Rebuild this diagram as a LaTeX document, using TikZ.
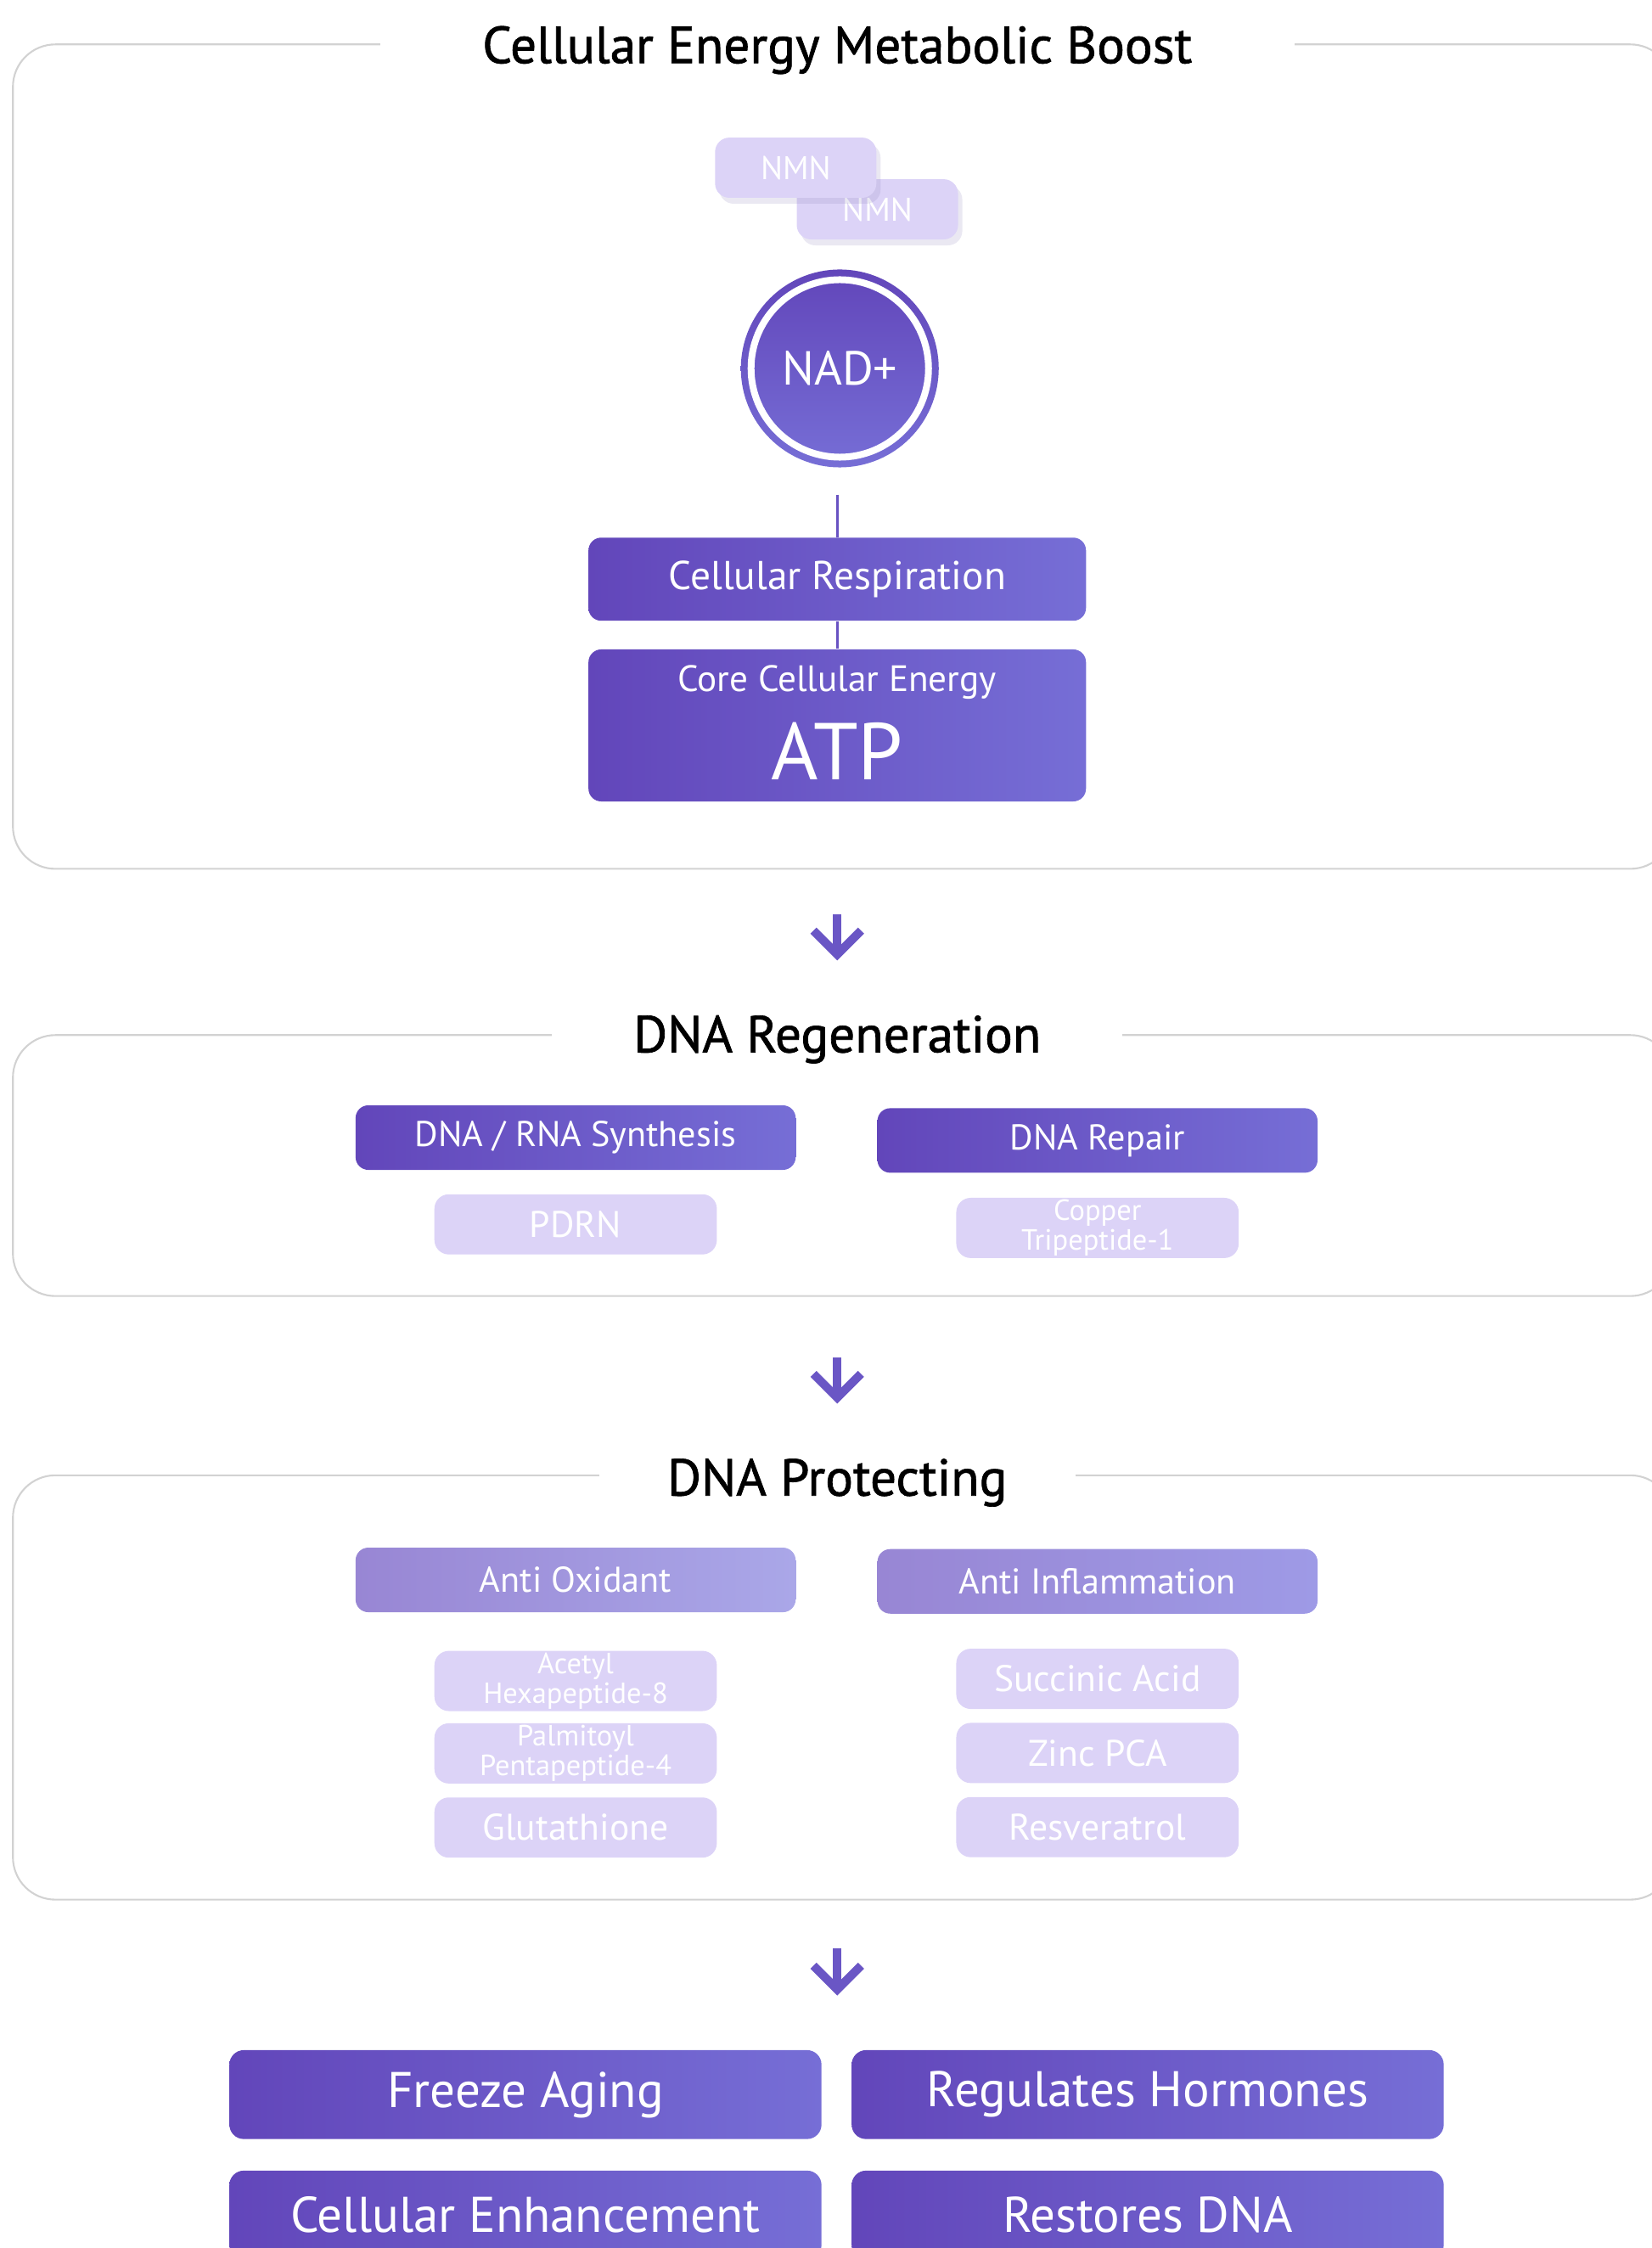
\documentclass[tikz,border=0pt]{standalone}
\usepackage{fontspec}
\setmainfont{PT Sans}
\newfontfamily\headfont[FakeBold=1.2]{PT Sans}
\usetikzlibrary{arrows.meta,positioning,shadows}

\definecolor{deepviolet}{HTML}{6246BA}
\definecolor{softviolet}{HTML}{766ED6}
\definecolor{chipviolet}{HTML}{DCD3F7}
\definecolor{mutedleft}{HTML}{9886D4}
\definecolor{mutedright}{HTML}{AAA7E8}
\definecolor{mutedrighttoo}{HTML}{9E9AE6}
\definecolor{framegrey}{HTML}{D2D2D2}
\definecolor{shadeviolet}{HTML}{8A82B8}

\begin{document}
\begin{tikzpicture}[
  frame/.style={draw=framegrey, line width=0.6pt, rounded corners=0.5cm},
  sectitle/.style={fill=white, inner ysep=2pt, font=\headfont\fontsize{17.4}{21}\selectfont},
  bar/.style={rounded corners=0.15cm, left color=deepviolet, right color=softviolet,
              text=white, align=center, minimum width=5.183cm, minimum height=0.76cm,
              font=\fontsize{12}{14}\selectfont},
  mutedbar/.style={bar, left color=mutedleft, right color=mutedright},
  chip/.style={rounded corners=0.17cm, fill=chipviolet, text=white, align=center,
               minimum width=3.326cm, minimum height=0.709cm, inner sep=0pt,
               font=\fontsize{12.4}{14}\selectfont},
  smallchip/.style={chip, font=\fontsize{9.8}{8.8}\selectfont},
  bigbar/.style={bar, rounded corners=0.17cm, minimum width=6.973cm, minimum height=1.047cm,
                 font=\fontsize{16.8}{20}\selectfont},
  link/.style={draw=deepviolet!70!softviolet, line width=0.8pt},
  flow/.style={draw=deepviolet!60!softviolet, line width=0.1cm,
               -{Straight Barb[length=0.28cm, width=0.56cm]}}
]
\useasboundingbox (0,0) rectangle (19.45,-26.474);

% section frames
\draw[frame] (0.152,-0.523) rectangle (19.7,-10.232);
\draw[frame] (0.152,-12.19) rectangle (19.7,-15.263);
\draw[frame] (0.152,-17.374) rectangle (19.7,-22.371);

\node[sectitle, minimum width=10.77cm] (ttlboost) at (9.86,-0.59) {Cellular Energy Metabolic Boost};
\node[sectitle, minimum width=6.72cm] (ttlregen) at (9.86,-12.24) {DNA Regeneration};
\node[sectitle, minimum width=5.61cm] (ttlprot) at (9.86,-17.46) {DNA Protecting};

% energy section
\node[chip, minimum width=1.9cm, font=\fontsize{11}{13}\selectfont,
      drop shadow={opacity=0.18, fill=shadeviolet, shadow xshift=0.05cm, shadow yshift=-0.07cm}]
      (nmnback) at (10.333,-2.465) {NMN};
\node[chip, minimum width=1.9cm, font=\fontsize{11}{13}\selectfont,
      drop shadow={opacity=0.18, fill=shadeviolet, shadow xshift=0.05cm, shadow yshift=-0.07cm}]
      (nmnfront) at (9.371,-1.975) {NMN};
\node[circle, minimum size=2.33cm, top color=deepviolet, bottom color=softviolet,
      text=white, font=\fontsize{16}{19}\selectfont] (nad) at (9.89,-4.339) {NAD+};
\draw[white, line width=0.08cm] (nad.center) circle (1.045cm);
\node[bar, minimum width=5.859cm, minimum height=0.979cm, font=\fontsize{13.5}{16}\selectfont]
      (resp) at (9.86,-6.821) {Cellular Respiration};
\node[bar, minimum width=5.859cm, minimum height=1.79cm] (atp) at (9.86,-8.543) {};
\node[text=white, font=\fontsize{12.3}{14}\selectfont] (atptag) at (9.86,-8.037) {Core Cellular Energy};
\node[text=white, font=\fontsize{27}{30}\selectfont] (atpword) at (9.86,-8.847) {ATP};
\coordinate (nadfoot) at (9.86,-5.825);
\draw[link] (nadfoot) -- (resp.north);
\draw[link] (resp.south) -- (atp.north);

% regeneration section
\node[bar] (synth) at (6.779,-13.397) {DNA / RNA Synthesis};
\node[bar] (repair) at (12.925,-13.431) {DNA Repair};
\node[chip] (pdrn) at (6.779,-14.419) {PDRN};
\node[smallchip] (copper) at (12.925,-14.461) {Copper\\Tripeptide-1};

% protecting section
\node[mutedbar] (antiox) at (6.779,-18.606) {Anti Oxidant};
\node[mutedbar, right color=mutedrighttoo] (antiinf) at (12.925,-18.623) {Anti Inflammation};
\node[smallchip] (acetyl) at (6.779,-19.796) {Acetyl\\Hexapeptide-8};
\node[smallchip, below=0.13cm of acetyl] (palmitoyl) {Palmitoyl\\Pentapeptide-4};
\node[chip, below=0.15cm of palmitoyl] (gluta) {Glutathione};
\node[chip] (succinic) at (12.925,-19.771) {Succinic Acid};
\node[chip, below=0.15cm of succinic] (zinc) {Zinc PCA};
\node[chip, below=0.15cm of zinc] (resver) {Resveratrol};

% flow arrows
\coordinate (flowAtop) at (9.86,-10.77);
\coordinate (flowAend) at (9.86,-11.31);
\coordinate (flowBtop) at (9.86,-15.99);
\coordinate (flowBend) at (9.86,-16.53);
\coordinate (flowCtop) at (9.86,-22.945);
\coordinate (flowCend) at (9.86,-23.50);
\draw[flow] (flowAtop) -- (flowAend);
\draw[flow] (flowBtop) -- (flowBend);
\draw[flow] (flowCtop) -- (flowCend);

% outcomes
\node[bigbar] (freeze) at (6.188,-24.667) {Freeze Aging};
\node[bigbar] (hormones) at (13.516,-24.667) {Regulates Hormones};
\node[bigbar] (enhance) at (6.188,-26.086) {Cellular Enhancement};
\node[bigbar] (restore) at (13.516,-26.086) {Restores DNA};
\end{tikzpicture}
\end{document}
